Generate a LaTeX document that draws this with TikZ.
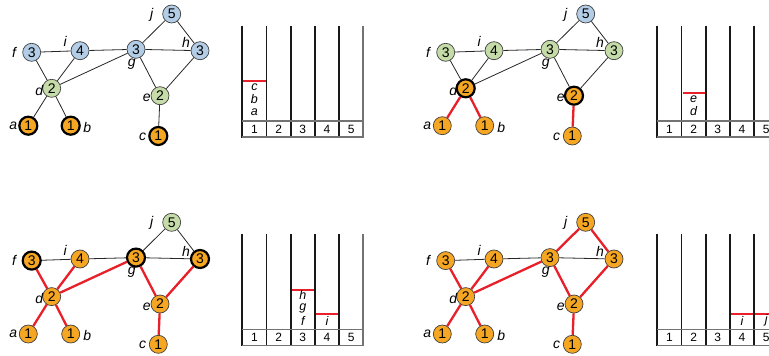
\documentclass[tikz,border=0pt]{standalone}
\usepackage{fontspec}
\setmainfont{Liberation Sans}
\setsansfont{Liberation Sans}
\definecolor{vblue}{HTML}{B3CDE6}
\definecolor{vgreen}{HTML}{C6DCA8}
\definecolor{vorange}{HTML}{F5A623}
\definecolor{vred}{HTML}{E8202A}
\tikzset{
 vtx/.style={circle,draw=black!75,line width=0.7pt,minimum size=18pt,inner sep=0pt,font=\fontsize{14}{14}\selectfont},
 bv/.style={vtx,fill=vblue}, gv/.style={vtx,fill=vgreen}, ov/.style={vtx,fill=vorange},
 thk/.style={draw=black,line width=2.2pt},
 lbl/.style={inner sep=0pt,font=\fontsize{14}{14}\selectfont\itshape},
 blk/.style={draw=black!85,line width=0.8pt},
 redge/.style={draw=vred,line width=2.3pt},
 col/.style={line width=1.8pt,draw=black!90},
 lastcol/.style={line width=1.8pt,draw=black!55},
 rowl/.style={line width=1.3pt,draw=black!55},
 num/.style={inner sep=0pt,font=\fontsize{12}{12}\selectfont},
 item/.style={inner sep=0pt,font=\fontsize{12.5}{12.5}\selectfont\itshape},
 stacktop/.style={draw=vred,line width=2pt},
 % quadrant A
 Aa/.style={ov,thk}, Ab/.style={ov,thk}, Ac/.style={ov,thk}, Ad/.style={gv}, Ae/.style={gv},
 Af/.style={bv}, Ag/.style={bv}, Ah/.style={bv}, Ai/.style={bv}, Aj/.style={bv},
 % quadrant B
 Ba/.style={ov}, Bb/.style={ov}, Bc/.style={ov}, Bd/.style={ov,thk}, Be/.style={ov,thk},
 Bf/.style={gv}, Bg/.style={gv}, Bh/.style={gv}, Bi/.style={gv}, Bj/.style={bv},
 % quadrant C
 Ca/.style={ov}, Cb/.style={ov}, Cc/.style={ov}, Cd/.style={ov}, Ce/.style={ov},
 Cf/.style={ov,thk}, Cg/.style={ov,thk}, Ch/.style={ov,thk}, Ci/.style={ov}, Cj/.style={gv},
 % quadrant D
 Da/.style={ov}, Db/.style={ov}, Dc/.style={ov}, Dd/.style={ov}, De/.style={ov},
 Df/.style={ov}, Dg/.style={ov}, Dh/.style={ov}, Di/.style={ov}, Dj/.style={ov},
}
\newcommand\mygraph[2]{%
\begin{scope}[shift={#2}]
\node[#1j] (#1j) at (171.7,14) {5};
\node[#1f] (#1f) at (31.7,52.3) {3};
\node[#1i] (#1i) at (80,50.7) {4};
\node[#1g] (#1g) at (136,49.3) {3};
\node[#1h] (#1h) at (200,50.7) {3};
\node[#1d] (#1d) at (51.7,88.3) {2};
\node[#1e] (#1e) at (160,95.7) {2};
\node[#1a] (#1a) at (28.3,125.7) {1};
\node[#1b] (#1b) at (70.7,125.7) {1};
\node[#1c] (#1c) at (158.3,136) {1};
\node[lbl] (#1jl) at (151.7,15) {j};
\node[lbl] (#1fl) at (14,52.3) {f};
\node[lbl] (#1il) at (65.3,41.7) {i};
\node[lbl] (#1gl) at (131.7,64) {g};
\node[lbl] (#1hl) at (186,42.7) {h};
\node[lbl] (#1dl) at (39.3,90) {d};
\node[lbl] (#1el) at (146.7,98.3) {e};
\node[lbl] (#1al) at (13.3,125.7) {a};
\node[lbl] (#1bl) at (87.3,127.3) {b};
\node[lbl] (#1cl) at (142.7,136.7) {c};
\draw[blk] (#1f)--(#1i);
\draw[blk] (#1f)--(#1d);
\draw[blk] (#1i)--(#1d);
\draw[blk] (#1i)--(#1g);
\draw[blk] (#1d)--(#1g);
\draw[blk] (#1g)--(#1j);
\draw[blk] (#1j)--(#1h);
\draw[blk] (#1g)--(#1h);
\draw[blk] (#1g)--(#1e);
\draw[blk] (#1h)--(#1e);
\draw[blk] (#1d)--(#1a);
\draw[blk] (#1d)--(#1b);
\draw[blk] (#1e)--(#1c);
\end{scope}}
\newcommand\mytable[2]{%
\begin{scope}[shift={#2}]
\foreach \k in {0,...,4} \draw[col] ({242.3+24.2*\k},25.7) -- ({242.3+24.2*\k},137.7);
\draw[lastcol] (363.3,25.7) -- (363.3,137.7);
\draw[rowl] (242.3,121) -- (363.3,121);
\draw[rowl] (242.3,137) -- (363.3,137);
\foreach \k in {1,...,5} \node[num] (#1n\k) at ({242.3+24.2*(\k-0.5)},129.3) {\k};
\end{scope}}
\begin{document}
\begin{tikzpicture}[x=1pt,y=-1pt]
\useasboundingbox (0,0) rectangle (769,356);
\clip (0,0) rectangle (769,356);
\mygraph{A}{(0,0)}
\mygraph{B}{(414,0)}
\mygraph{C}{(0,208.3)}
\mygraph{D}{(414,208.3)}
\foreach \u/\v in {d/a,d/b,e/c} \draw[redge] (B\u)--(B\v);
\foreach \u/\v in {d/a,d/b,e/c,f/d,i/d,g/d,g/e,h/e} \draw[redge] (C\u)--(C\v);
\foreach \u/\v in {d/a,d/b,e/c,f/d,i/d,g/d,g/e,h/e,g/j,j/h} \draw[redge] (D\u)--(D\v);
\mytable{TA}{(0,0)}
\mytable{TB}{(415,0)}
\mytable{TC}{(0,208.5)}
\mytable{TD}{(415,208.5)}
% stacks
\begin{scope}
\draw[stacktop] (243.3,81) -- (265.5,81);
\node[item] (sAc) at (254.4,87.3) {c};
\node[item] (sAb) at (254.4,98.8) {b};
\node[item] (sAa) at (254.4,112) {a};
\end{scope}
\begin{scope}[shift={(415,0)}]
\draw[stacktop] (267.5,93) -- (289.7,93);
\node[item] (sBe) at (278.6,99.5) {e};
\node[item] (sBd) at (278.6,111.3) {d};
\end{scope}
\begin{scope}[shift={(0,208.5)}]
\draw[stacktop] (291.7,81) -- (313.9,81);
\node[item] (sCh) at (302.8,86.6) {h};
\node[item] (sCg) at (302.8,99.9) {g};
\node[item] (sCf) at (302.8,112.3) {f};
\draw[stacktop] (315.9,105) -- (338.1,105);
\node[item] (sCi) at (327,112) {i};
\end{scope}
\begin{scope}[shift={(415,208.5)}]
\draw[stacktop] (315.9,105) -- (338.1,105);
\node[item] (sDi) at (327,112) {i};
\draw[stacktop] (340.1,105) -- (362.3,105);
\node[item] (sDj) at (351.2,112) {j};
\end{scope}
\end{tikzpicture}
\end{document}
